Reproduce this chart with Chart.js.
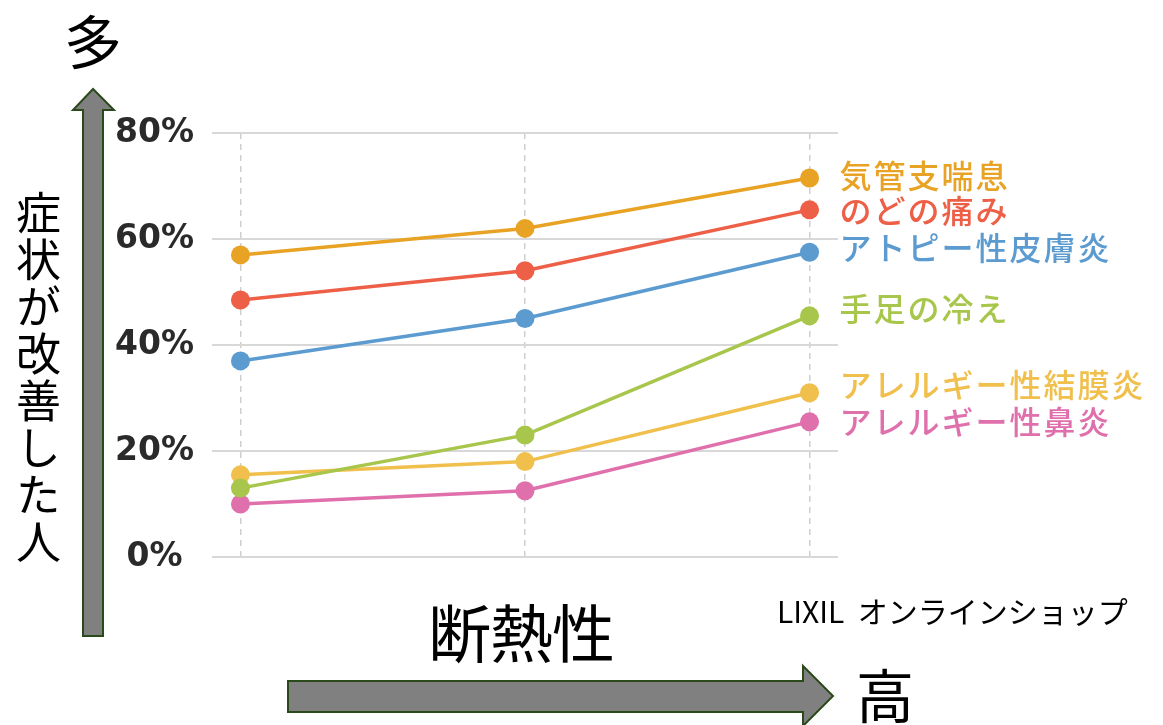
<!DOCTYPE html>
<html lang="ja">
<head>
<meta charset="utf-8">
<title>断熱性と症状改善</title>
<script src="https://cdn.jsdelivr.net/npm/chart.js@4"></script>
<style>
  html, body { margin: 0; padding: 0; background: #fff; }
  #wrap { position: relative; width: 1163px; height: 725px; overflow: hidden; }
  #chart { position: absolute; left: 0; top: 0; }
  .txt { position: absolute; font-family: "Noto Sans CJK JP", sans-serif; color: #000; white-space: nowrap; line-height: 1; }
  #arrows { position: absolute; left: 0; top: 0; }
</style>
</head>
<body>
<div id="wrap">
  <canvas id="chart" width="1163" height="725"></canvas>
  <svg id="arrows" width="1163" height="725">
    <!-- up arrow -->
    <polygon points="83,636 103,636 103,110 114,110 93,89 73,110 83,110" fill="#808080" stroke="#2b4a1c" stroke-width="2"/>
    <!-- right arrow -->
    <polygon points="288,681 803,681 803,666 833,696 803,726 803,712 288,712" fill="#808080" stroke="#2b4a1c" stroke-width="2"/>
  </svg>
  <div class="txt" style="left:64px; top:10px; font-size:58px;">多</div>
  <div class="txt" style="left:16px; top:190px; font-size:45px; writing-mode: vertical-rl; letter-spacing:2px;">症状が改善した人</div>
  <div class="txt" style="left:428px; top:598px; font-size:63px; letter-spacing:-1px;">断熱性</div>
  <div class="txt" style="left:856px; top:664px; font-size:58px;">高</div>
  <div class="txt" style="left:777px; top:595px; font-size:30px;">LIXIL&nbsp;&nbsp;オンラインショップ</div>
</div>
<script>
// data (percent of people whose symptom improved)
const steps = [0, 1, 2];
const symptoms = ["気管支喘息", "のどの痛み", "アトピー性皮膚炎", "手足の冷え", "アレルギー性結膜炎", "アレルギー性鼻炎"];
const asthma = [57, 62, 71.5];
const throat = [48.5, 54, 65.5];
const atopy = [37, 45, 57.5];
const coldHands = [13, 23, 45.5];
const conjunctivitis = [15.5, 18, 31];
const rhinitis = [10, 12.5, 25.5];
const yTicks = [0, 20, 40, 60, 80];

const seriesValues = [asthma, throat, atopy, coldHands, conjunctivitis, rhinitis];
const colors = ["#e8a224", "#ee5f47", "#5b9bd0", "#a7c64b", "#f0bf4c", "#e070ac"];

// small vertical nudges for the right-hand labels
const labelNudge = [-2, 1, -4, -7, -8, 0];

const endLabels = {
    id: "endLabels",
    afterDatasetsDraw(chart) {
        const ctx = chart.ctx;
        ctx.save();
        ctx.font = "500 32px 'Noto Sans CJK JP'";
        ctx.letterSpacing = "2px";
        ctx.textBaseline = "middle";
        ctx.textAlign = "left";
        chart.data.datasets.forEach((ds, i) => {
            const meta = chart.getDatasetMeta(i);
            const pt = meta.data[meta.data.length - 1];
            ctx.fillStyle = ds.borderColor;
            ctx.fillText(ds.label, pt.x + 30, pt.y + labelNudge[i]);
        });
        ctx.restore();
    },
};

const chart = new Chart(document.getElementById("chart").getContext("2d"), {
    type: "line",
    data: {
        datasets: symptoms.map((name, i) => ({
            label: name,
            data: steps.map((s, j) => ({ x: s, y: seriesValues[i][j] })),
            borderColor: colors[i],
            backgroundColor: colors[i],
            borderWidth: 3.5,
            pointRadius: 9.5,
            pointBorderWidth: 0,
            fill: false,
            tension: 0,
        })),
    },
    options: {
        responsive: false,
        animation: false,
        layout: { padding: { left: 100, top: 133, right: 325, bottom: 168 } },
        plugins: {
            legend: { display: false },
            tooltip: { enabled: false },
        },
        scales: {
            x: {
                type: "linear",
                min: -0.1,
                max: 2.1,
                afterBuildTicks: (scale) => {
                    scale.ticks = steps.map((v) => ({ value: v }));
                },
                afterFit: (scale) => { scale.height = 0; },
                ticks: { display: false },
                grid: { color: "#cfcfcf", lineWidth: 1.5, drawTicks: false },
                border: { display: false, dash: [6, 5] },
            },
            y: {
                min: 0,
                max: 80,
                afterBuildTicks: (scale) => {
                    scale.ticks = yTicks.map((v) => ({ value: v }));
                },
                afterFit: (scale) => { scale.width = 112; },
                ticks: {
                    crossAlign: "center",
                    color: "#2a2a2a",
                    font: { family: "DejaVu Sans", size: 33, weight: "bold" },
                    callback: (v) => v + "%",
                },
                grid: {
                    color: "#d8d8d8",
                    lineWidth: 2,
                    drawTicks: true,
                    tickLength: 15,
                    tickColor: "rgba(0,0,0,0)",
                },
                border: { display: false },
            },
        },
    },
    plugins: [endLabels],
});
</script>
</body>
</html>
